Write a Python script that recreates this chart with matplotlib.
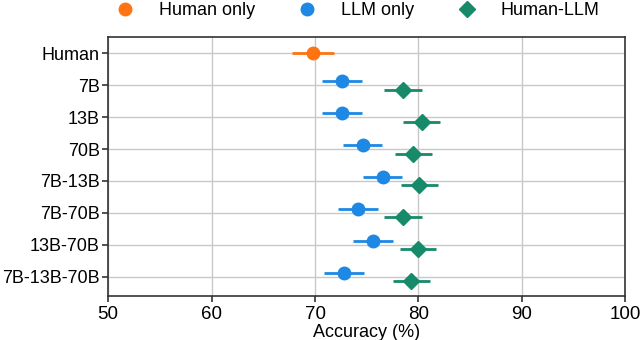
import matplotlib
matplotlib.use("Agg")
import matplotlib.pyplot as plt
from matplotlib.lines import Line2D
import numpy as np

plt.rcParams['font.family'] = ['Liberation Sans', 'DejaVu Sans']
plt.rcParams['font.size'] = 13

# data
labels = ['Human', '7B', '13B', '70B', '7B-13B', '7B-70B', '13B-70B', '7B-13B-70B']
human_acc = 69.8
human_err = 2.05
llm_acc = [72.6, 72.6, 74.6, 76.55, 74.15, 75.6, 72.8]
llm_err = [1.95, 1.95, 1.9, 1.87, 1.93, 1.9, 1.95]
hl_acc = [78.5, 80.3, 79.5, 80.1, 78.5, 79.95, 79.3]
hl_err = [1.8, 1.75, 1.8, 1.78, 1.8, 1.78, 1.78]

c_human = '#ff7410'
c_llm = '#1e88e5'
c_hl = '#168a69'

fig, ax = plt.subplots(figsize=(6.4, 3.4), dpi=100)
fig.subplots_adjust(left=0.169, right=0.977, top=0.89, bottom=0.13)

rows = np.arange(1, len(labels))
ax.errorbar(human_acc, 0, xerr=human_err, fmt='o', color=c_human,
            markersize=9, elinewidth=2, capsize=0, zorder=3)
ax.errorbar(llm_acc, rows - 0.12, xerr=llm_err, fmt='o', color=c_llm,
            markersize=9, elinewidth=2, capsize=0, zorder=3)
ax.errorbar(hl_acc, rows + 0.14, xerr=hl_err, fmt='D', color=c_hl,
            markersize=8, elinewidth=2, capsize=0, zorder=3)

ax.set_yticks(np.arange(len(labels)))
ax.set_yticklabels(labels)
ax.set_ylim(7.6, -0.5)
ax.set_xlim(50, 100)
ax.set_xticks([50, 60, 70, 80, 90, 100])
ax.set_xlabel('Accuracy (%)', labelpad=1)
ax.grid(True, color='#c8c8c8', linewidth=1)
ax.set_axisbelow(True)
for s in ax.spines.values():
    s.set_color('#333333')
    s.set_linewidth(1.2)
ax.tick_params(colors='#333333', labelcolor='black', length=4, width=1.2,
               labelsize=13.5, pad=3)
ax.tick_params(axis='y', pad=2, labelsize=13)

handles = [
    Line2D([], [], marker='o', color=c_human, linestyle='none', markersize=9),
    Line2D([], [], marker='o', color=c_llm, linestyle='none', markersize=9),
    Line2D([], [], marker='D', color=c_hl, linestyle='none', markersize=8),
]
fig.legend(handles, ['Human only', 'LLM only', 'Human-LLM'], loc='upper center',
           bbox_to_anchor=(0.552, 1.041), ncol=3, frameon=False, fontsize=13,
           columnspacing=1.9, handletextpad=0.87)

fig.savefig('out.png', dpi=100)
